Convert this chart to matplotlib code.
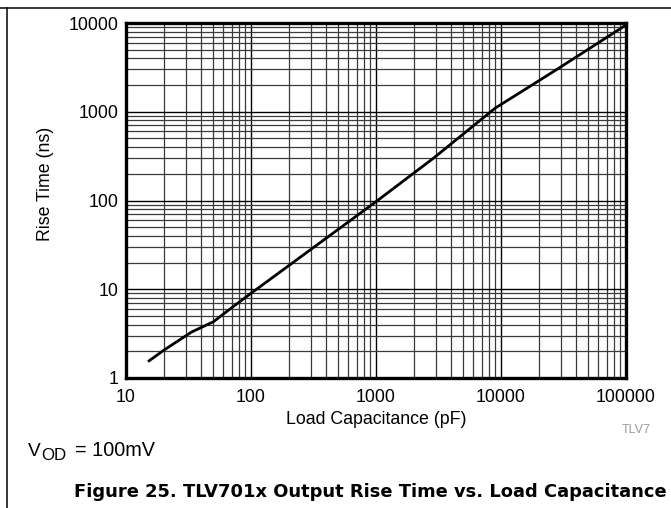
import matplotlib
matplotlib.use("Agg")
import matplotlib.pyplot as plt
from matplotlib.lines import Line2D
from matplotlib.ticker import LogLocator, FixedLocator, NullFormatter

plt.rcParams["font.family"] = ["Liberation Sans", "DejaVu Sans"]

# rise time vs load capacitance
cap_pf = [15, 20, 33.5, 50, 68, 100, 1000, 2875, 9000, 28000, 100000]
rise_ns = [1.53, 2.05, 3.3, 4.3, 6.0, 9.0, 97, 299, 1100, 3000, 9500]

x_ticks = [10, 100, 1000, 10000, 100000]
x_labels = ["10", "100", "1000", "10000", "100000"]
y_ticks = [1, 10, 100, 1000, 10000]
y_labels = ["1", "10", "100", "1000", "10000"]

fig = plt.figure(figsize=(6.71, 5.08), dpi=100)
ax = fig.add_axes([126 / 671, 1 - 378 / 508, 500 / 671, 355 / 508])

ax.set_xscale("log")
ax.set_yscale("log")
ax.set_xlim(10, 100000)
ax.set_ylim(1, 10000)

ax.xaxis.set_major_locator(FixedLocator(x_ticks))
ax.yaxis.set_major_locator(FixedLocator(y_ticks))
ax.set_xticklabels(x_labels)
ax.set_yticklabels(y_labels)
ax.xaxis.set_minor_locator(LogLocator(base=10, subs=range(2, 10), numticks=20))
ax.yaxis.set_minor_locator(LogLocator(base=10, subs=range(2, 10), numticks=20))
ax.xaxis.set_minor_formatter(NullFormatter())
ax.yaxis.set_minor_formatter(NullFormatter())

ax.grid(which="major", color="black", linewidth=1.0)
ax.grid(which="minor", color="#3a3a3a", linewidth=0.9)
ax.tick_params(which="both", length=0, labelsize=12.8)
ax.tick_params(axis="x", pad=8)
ax.tick_params(axis="y", pad=5.5)

for s in ax.spines.values():
    s.set_linewidth(2.4)

ax.plot(cap_pf, rise_ns, color="black", linewidth=2.0, solid_capstyle="butt", zorder=5)

ax.set_xlabel("Load Capacitance (pF)", fontsize=12.8)
ax.set_ylabel("Rise Time (ns)", fontsize=12.8)
ax.xaxis.set_label_coords(0.5, -(420 - 378) / 355, transform=ax.transAxes)
ax.xaxis.label.set_va("center")
ax.yaxis.set_label_coords(-(126 - 45) / 500, (378 - 183.5) / 355, transform=ax.transAxes)
ax.yaxis.label.set_va("center")

# page frame lines
fig.add_artist(Line2D([0, 1], [1 - 8 / 508] * 2, color="black", linewidth=1.1))
fig.add_artist(Line2D([7 / 671] * 2, [0, 1 - 8 / 508], color="black", linewidth=1.1))

fig.text(622 / 671, 1 - 430 / 508, "TLV7", fontsize=9, color="#9a9a9a", va="center")

# V_OD note, built from pieces
fig.text(28 / 671, 1 - 456 / 508, "V", fontsize=13.8, va="baseline")
fig.text(41.5 / 671, 1 - 460 / 508, "OD", fontsize=12.2, va="baseline")
fig.text(75 / 671, 1 - 456 / 508, "= 100mV", fontsize=14.3, va="baseline")

fig.text(74 / 671, 1 - 492 / 508, "Figure 25. TLV701x Output Rise Time vs. Load Capacitance",
         fontsize=12.9, fontweight="bold", family="DejaVu Sans", va="center")

fig.savefig("out.png", dpi=100)
